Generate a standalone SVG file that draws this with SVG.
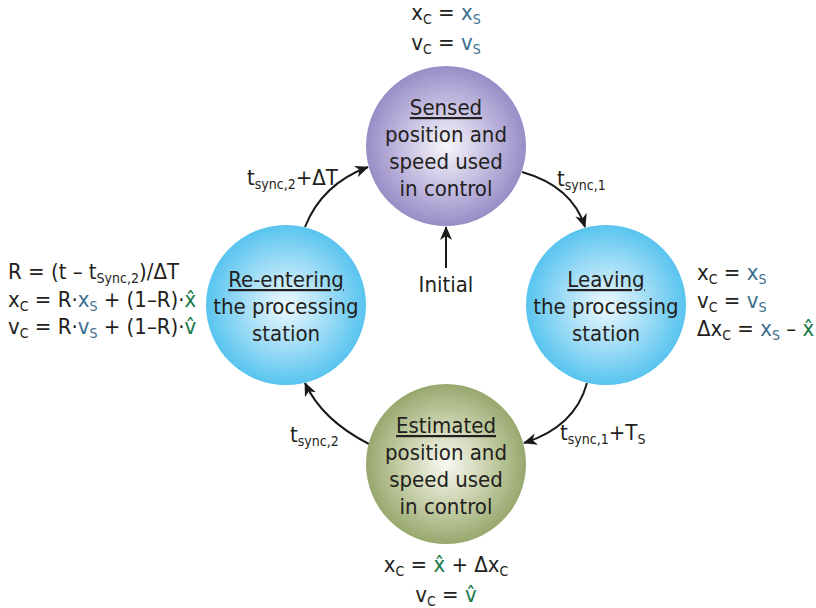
<svg xmlns="http://www.w3.org/2000/svg" width="816" height="608" viewBox="0 0 816 608">
  <defs>
    <radialGradient id="gPurple" cx="50%" cy="50%" r="50%">
      <stop offset="0" stop-color="#f7f6fb"/>
      <stop offset="0.55" stop-color="#c3bce0"/>
      <stop offset="1" stop-color="#988dc6"/>
    </radialGradient>
    <radialGradient id="gBlue" cx="50%" cy="50%" r="50%">
      <stop offset="0" stop-color="#eef9fe"/>
      <stop offset="0.55" stop-color="#9edcf6"/>
      <stop offset="1" stop-color="#58c4ef"/>
    </radialGradient>
    <radialGradient id="gGreen" cx="50%" cy="50%" r="50%">
      <stop offset="0" stop-color="#f8f9f1"/>
      <stop offset="0.55" stop-color="#c6cfa8"/>
      <stop offset="1" stop-color="#97a86e"/>
    </radialGradient>
    <marker id="arrow" viewBox="0 0 14 12" refX="13" refY="6" markerWidth="14" markerHeight="12" markerUnits="userSpaceOnUse" orient="auto">
      <path d="M0,0 L14,6 L0,12 L4,6 z" fill="#1a1a1a"/>
    </marker>
  </defs>
  <style>
    text { font-family: "DejaVu Sans Condensed", "DejaVu Sans", sans-serif; font-stretch: condensed; font-size: 22px; fill: #231f20; }
    .mid { text-anchor: middle; }
    .u { text-decoration: underline; }
    .sub { font-size: 14px; }
    .b { fill: #3b6e8f; }
    .g { fill: #17784a; }
    .conn { fill: none; stroke: #1a1a1a; stroke-width: 2; marker-end: url(#arrow); }
  </style>

  <rect width="816" height="608" fill="#ffffff"/>

  <!-- connectors -->
  <g id="connectors">
    <path class="conn" d="M305,227 Q322,184 368,167"/>
    <path class="conn" d="M522,172 Q572,186 585,227"/>
    <path class="conn" d="M587,383 Q575,427 524,443"/>
    <path class="conn" d="M369,444 Q322,420 305,383"/>
    <path class="conn" d="M446,268 L446,227"/>
  </g>

  <!-- sensed state -->
  <g id="sensed">
    <circle cx="446" cy="146" r="80" fill="url(#gPurple)"/>
    <text class="mid" x="446" y="115"><tspan class="u">Sensed</tspan></text>
    <text class="mid" x="446" y="142">position and</text>
    <text class="mid" x="446" y="169">speed used</text>
    <text class="mid" x="446" y="196">in control</text>
  </g>

  <!-- leaving state -->
  <g id="leaving">
    <circle cx="606" cy="305" r="80" fill="url(#gBlue)"/>
    <text class="mid" x="606" y="287"><tspan class="u">Leaving</tspan></text>
    <text class="mid" x="606" y="314">the processing</text>
    <text class="mid" x="606" y="341">station</text>
  </g>

  <!-- estimated state -->
  <g id="estimated">
    <circle cx="446" cy="464" r="80" fill="url(#gGreen)"/>
    <text class="mid" x="446" y="433"><tspan class="u">Estimated</tspan></text>
    <text class="mid" x="446" y="460">position and</text>
    <text class="mid" x="446" y="487">speed used</text>
    <text class="mid" x="446" y="514">in control</text>
  </g>

  <!-- re-entering state -->
  <g id="reentering">
    <circle cx="286" cy="305" r="80" fill="url(#gBlue)"/>
    <text class="mid" x="286" y="287"><tspan class="u">Re-entering</tspan></text>
    <text class="mid" x="286" y="314">the processing</text>
    <text class="mid" x="286" y="341">station</text>
  </g>

  <!-- initial -->
  <g id="initial">
    <text class="mid" x="446" y="292">Initial</text>
  </g>

  <!-- transition labels -->
  <g id="labels">
    <text x="247" y="185">t<tspan class="sub" dy="4">sync,2</tspan><tspan dy="-4">+ΔT</tspan></text>
    <text x="557" y="186">t<tspan class="sub" dy="4">sync,1</tspan></text>
    <text x="560" y="440">t<tspan class="sub" dy="4">sync,1</tspan><tspan dy="-4">+T</tspan><tspan class="sub" dy="4">S</tspan></text>
    <text x="290" y="442">t<tspan class="sub" dy="4">sync,2</tspan></text>
  </g>

  <!-- state equations -->
  <g id="eq-sensed">
    <text class="mid" x="446" y="20">x<tspan class="sub" dy="4">C</tspan><tspan dy="-4"> = </tspan><tspan class="b">x</tspan><tspan class="sub b" dy="4">S</tspan></text>
    <text class="mid" x="446" y="50">v<tspan class="sub" dy="4">C</tspan><tspan dy="-4"> = </tspan><tspan class="b">v</tspan><tspan class="sub b" dy="4">S</tspan></text>
  </g>
  <g id="eq-leaving">
    <text x="697" y="280">x<tspan class="sub" dy="4">C</tspan><tspan dy="-4"> = </tspan><tspan class="b">x</tspan><tspan class="sub b" dy="4">S</tspan></text>
    <text x="697" y="308">v<tspan class="sub" dy="4">C</tspan><tspan dy="-4"> = </tspan><tspan class="b">v</tspan><tspan class="sub b" dy="4">S</tspan></text>
    <text x="697" y="336">Δx<tspan class="sub" dy="4">C</tspan><tspan dy="-4"> = </tspan><tspan class="b">x</tspan><tspan class="sub b" dy="4">S</tspan><tspan dy="-4"> – </tspan><tspan class="g">x̂</tspan></text>
  </g>
  <g id="eq-estimated">
    <text class="mid" x="446" y="572">x<tspan class="sub" dy="4">C</tspan><tspan dy="-4"> = </tspan><tspan class="g">x̂</tspan> + Δx<tspan class="sub" dy="4">C</tspan></text>
    <text class="mid" x="446" y="602">v<tspan class="sub" dy="4">C</tspan><tspan dy="-4"> = </tspan><tspan class="g">v̂</tspan></text>
  </g>
  <g id="eq-reentering">
    <text x="8" y="279">R = (t – t<tspan class="sub" dy="4">Sync,2</tspan><tspan dy="-4">)/ΔT</tspan></text>
    <text x="8" y="307">x<tspan class="sub" dy="4">C</tspan><tspan dy="-4"> = R·</tspan><tspan class="b">x</tspan><tspan class="sub b" dy="4">S</tspan><tspan dy="-4"> + (1–R)·</tspan><tspan class="g">x̂</tspan></text>
    <text x="8" y="334">v<tspan class="sub" dy="4">C</tspan><tspan dy="-4"> = R·</tspan><tspan class="b">v</tspan><tspan class="sub b" dy="4">S</tspan><tspan dy="-4"> + (1–R)·</tspan><tspan class="g">v̂</tspan></text>
  </g>
</svg>
